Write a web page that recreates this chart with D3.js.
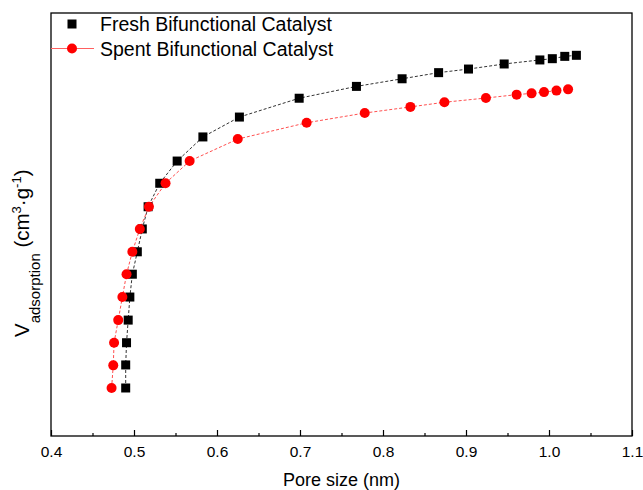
<!DOCTYPE html>
<html>
<head>
<meta charset="utf-8">
<title>Pore size distribution</title>
<script src="https://d3js.org/d3.v7.min.js"></script>
<style>
  body { margin: 0; background: white; }
  text { font-family: "Liberation Sans", Arial, sans-serif; fill: #000; }
  .frame { fill: none; stroke: #000; stroke-width: 1.3px; }
  .axis path { display: none; }
  .axis line { stroke: #000; stroke-width: 1.2px; }
</style>
</head>
<body>
<svg id="chart"></svg>
<script>
// pore size (nm) and adsorbed volume (arbitrary units, axis has no values)
var freshX = [0.490, 0.490, 0.491, 0.493, 0.495, 0.498, 0.504, 0.510, 0.517, 0.531, 0.552, 0.583,
              0.627, 0.699, 0.768, 0.823, 0.867, 0.903, 0.946, 0.989, 1.004, 1.019, 1.033];
var freshY = [22.7, 33.6, 44.1, 54.8, 65.7, 76.5, 87.1, 97.9, 108.4, 119.5, 130.0, 141.4,
              150.8, 159.7, 165.3, 168.9, 171.8, 173.5, 175.9, 177.8, 178.4, 179.5, 180.0];
var spentX = [0.473, 0.475, 0.476, 0.481, 0.486, 0.491, 0.498, 0.507, 0.518, 0.538, 0.567, 0.625,
              0.708, 0.778, 0.833, 0.874, 0.924, 0.961, 0.979, 0.994, 1.009, 1.023];
var spentY = [22.7, 33.4, 44.1, 54.8, 65.7, 76.5, 87.1, 97.9, 108.4, 119.5, 130.0, 140.4,
              148.1, 152.7, 155.6, 157.8, 159.8, 161.4, 162.0, 162.6, 163.3, 163.9];
var seriesNames = ["Fresh Bifunctional Catalyst", "Spent Bifunctional Catalyst"];
var majorTicks = [0.4, 0.5, 0.6, 0.7, 0.8, 0.9, 1.0, 1.1];
var minorTicks = [0.45, 0.55, 0.65, 0.75, 0.85, 0.95, 1.05];

var width = 643, height = 490;
var pLeft = 51, pRight = 632, pTop = 13, pBottom = 436;

var svg = d3.select("#chart").attr("width", width).attr("height", height);

var x = d3.scaleLinear().domain([0.4, 1.1]).range([pLeft, pRight]);
var y = d3.scaleLinear().domain([0, 200]).range([pBottom, pTop]);

var fresh = freshX.map(function(v, i) { return {x: v, y: freshY[i]}; });
var spent = spentX.map(function(v, i) { return {x: v, y: spentY[i]}; });

// axes (ticks point inward)
svg.append("g")
  .attr("class", "axis")
  .attr("transform", "translate(0," + pBottom + ")")
  .call(d3.axisBottom(x).tickValues(majorTicks).tickSize(-6).tickPadding(10)
    .tickFormat(d3.format(".1f")))
  .selectAll("text")
  .style("font-size", "15.5px")
  .style("font-family", "Liberation Sans, Arial, sans-serif");

svg.append("g")
  .attr("class", "axis")
  .attr("transform", "translate(0," + pBottom + ")")
  .call(d3.axisBottom(x).tickValues(minorTicks).tickSize(-3).tickFormat(""));

svg.append("rect")
  .attr("class", "frame")
  .attr("x", pLeft).attr("y", pTop)
  .attr("width", pRight - pLeft).attr("height", pBottom - pTop);

// lines
var line = d3.line().x(function(d) { return x(d.x); }).y(function(d) { return y(d.y); });

svg.append("path").datum(fresh)
  .attr("d", line)
  .attr("fill", "none")
  .attr("stroke", "#333")
  .attr("stroke-width", 1)
  .attr("stroke-dasharray", "3,2");

svg.append("path").datum(spent)
  .attr("d", line)
  .attr("fill", "none")
  .attr("stroke", "#ff5050")
  .attr("stroke-width", 1)
  .attr("stroke-dasharray", "3,2");

// markers
svg.selectAll("rect.fresh").data(fresh).enter().append("rect")
  .attr("class", "fresh")
  .attr("x", function(d) { return x(d.x) - 4.5; })
  .attr("y", function(d) { return y(d.y) - 4.5; })
  .attr("width", 9).attr("height", 9)
  .attr("fill", "#000");

svg.selectAll("circle.spent").data(spent).enter().append("circle")
  .attr("class", "spent")
  .attr("cx", function(d) { return x(d.x); })
  .attr("cy", function(d) { return y(d.y); })
  .attr("r", 5)
  .attr("fill", "#ff0000");

// legend
var leg = svg.append("g");
leg.append("rect").attr("x", 67.5).attr("y", 19.5).attr("width", 9).attr("height", 9).attr("fill", "#000");
leg.append("text").attr("x", 100).attr("y", 31).style("font-size", "19.5px").text(seriesNames[0]);
leg.append("line").attr("x1", 51).attr("x2", 94).attr("y1", 48.5).attr("y2", 48.5)
  .attr("stroke", "#ff6060").attr("stroke-width", 1.2);
leg.append("circle").attr("cx", 72).attr("cy", 48.5).attr("r", 5).attr("fill", "#ff0000");
leg.append("text").attr("x", 100).attr("y", 55.5).style("font-size", "19.5px").text(seriesNames[1]);

// axis titles
svg.append("text")
  .attr("x", (pLeft + pRight) / 2).attr("y", 486)
  .attr("text-anchor", "middle")
  .style("font-size", "18px")
  .text("Pore size (nm)");

var yt = svg.append("text")
  .attr("transform", "translate(29,337) rotate(-90)")
  .style("font-size", "20.5px");
yt.append("tspan").text("V");
yt.append("tspan").attr("dy", 11).style("font-size", "15px").text("adsorption");
yt.append("tspan").attr("dy", -11).text(" (cm");
yt.append("tspan").attr("dy", -8).style("font-size", "13px").text("3");
yt.append("tspan").attr("dy", 8).text("\u00b7g");
yt.append("tspan").attr("dy", -8).style("font-size", "13px").text("-1");
yt.append("tspan").attr("dy", 8).text(")");
</script>
</body>
</html>
